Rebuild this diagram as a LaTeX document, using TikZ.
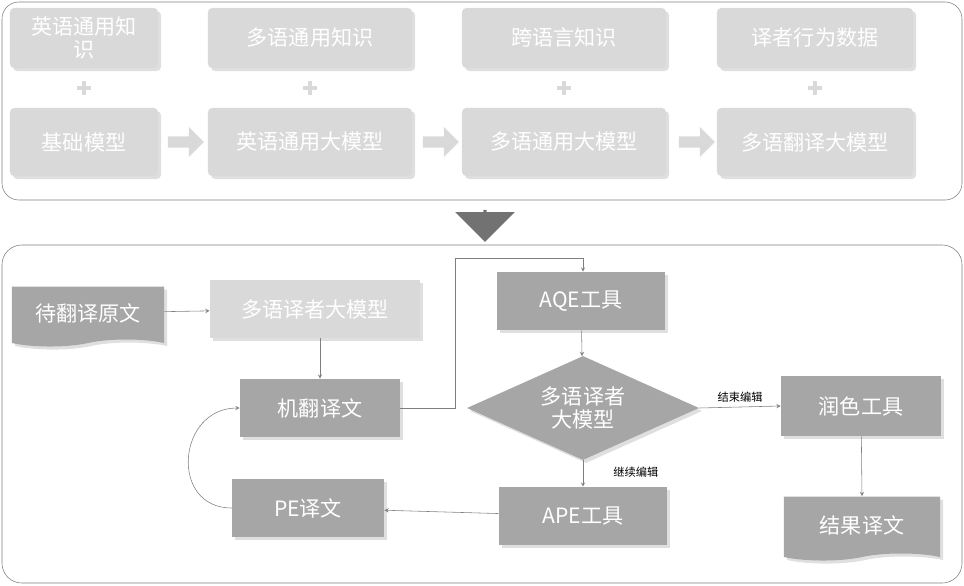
\documentclass[tikz,border=0pt]{standalone}
\usepackage{fontspec}
\newfontfamily\cjk{Noto Sans CJK SC}
\usetikzlibrary{arrows,positioning,shapes,shapes.geometric,shapes.symbols,shadows}
\definecolor{light}{HTML}{D9D9D9}
\definecolor{mid}{HTML}{A6A6A6}
\definecolor{frame}{HTML}{7F7F7F}
\begin{document}
\begin{tikzpicture}[x=0.025cm, y=-0.025cm, every node/.style={font=\cjk\fontsize{15}{17}\selectfont, text=white},
	lbox/.style={rectangle, rounded corners=3pt, fill=light, minimum height=1.5cm, drop shadow={opacity=0.25}},
	mbox/.style={rectangle, fill=mid, minimum height=1.45cm, drop shadow={opacity=0.25}},
	doc/.style={tape, tape bend top=none, fill=mid, minimum height=1.5cm, minimum width=3.8cm, drop shadow={opacity=0.25}},
	link/.style={->,>=stealth, draw=frame}]
	\useasboundingbox (0,0) rectangle (964,585);
	\draw[frame, rounded corners=12pt] (2,2) rectangle (962,200);
	\draw[frame, rounded corners=14pt] (2,245) rectangle (962,583);
	% top row
	\node[lbox, minimum width=3.7cm, align=center] (k1) at (84,38) {英语通用知\\识};
	\node[lbox, minimum width=5.1cm] (k2) at (310,38) {多语通用知识};
	\node[lbox, minimum width=5.1cm] (k3) at (564,38) {跨语言知识};
	\node[lbox, minimum width=4.9cm] (k4) at (815,38) {译者行为数据};
	\node[lbox, minimum width=3.7cm, minimum height=1.7cm] (m1) at (84,142) {基础模型};
	\node[lbox, minimum width=5.1cm, minimum height=1.7cm] (m2) at (310,142) {英语通用大模型};
	\node[lbox, minimum width=5.1cm, minimum height=1.7cm] (m3) at (564,142) {多语通用大模型};
	\node[lbox, minimum width=4.9cm, minimum height=1.7cm] (m4) at (815,142) {多语翻译大模型};
	\foreach \x in {84,310,564,815}
		\draw[light, line width=3pt] (\x-7,88) -- (\x+7,88) (\x,81) -- (\x,95);
	\foreach \x in {183,438,694}
		\node[single arrow, fill=light, minimum height=0.9cm, minimum width=0.75cm, single arrow head extend=2pt, inner sep=1pt] at (\x,142) {};
	\node[single arrow, shape border rotate=270, fill=frame!90!black, minimum height=0.8cm, minimum width=1.2cm, single arrow head extend=0.7cm, inner sep=1pt] (down) at (485,225) {};
	% bottom panel
	\node[doc, minimum width=3.8cm] (src) at (88,313) {待翻译原文};
	\node[lbox, rounded corners=0pt, minimum width=5.25cm, minimum height=1.45cm] (llm) at (315,309) {多语译者大模型};
	\node[mbox, minimum width=4cm] (mt) at (320,408) {机翻译文};
	\node[mbox, minimum width=3.8cm] (pe) at (308,508) {PE译文};
	\node[mbox, minimum width=4.2cm] (aqe) at (581,301) {AQE工具};
	\node[diamond, fill=mid, aspect=2.3, minimum width=5.8cm, minimum height=2.6cm, inner sep=0pt, align=center, drop shadow={opacity=0.25}] (dec) at (583,408) {多语译者\\大模型};
	\node[mbox, minimum width=4.2cm] (ape) at (583,516) {APE工具};
	\node[mbox, minimum width=4cm, minimum height=1.5cm] (pol) at (861,406) {润色工具};
	\node[doc, minimum width=3.9cm, minimum height=1.6cm] (res) at (862,525) {结果译文};
	\coordinate (c1) at (455,258);
	\draw[link] (src) -- (llm);
	\draw[link] (llm.south -| mt) -- (mt);
	\draw[link] (mt.east) -- (455,408) -- (c1) -- (583,258) -- (aqe.north -| 583,0);
	\draw[link] (aqe) -- (dec);
	\draw[link] (dec.east) -- node[above, text=black, font=\cjk\fontsize{8}{9}\selectfont] {结束编辑} (pol.west);
	\draw[link] (dec.south) -- node[right, pos=0.45, xshift=18pt, text=black, font=\cjk\fontsize{8}{9}\selectfont] {继续编辑} (ape.north);
	\draw[link] (ape) -- (pe);
	\draw[link] (pe.west) to[out=180, in=180, looseness=1.6] (mt.west);
	\draw[link] (pol) -- (res.north -| 862,0);
\end{tikzpicture}
\end{document}
